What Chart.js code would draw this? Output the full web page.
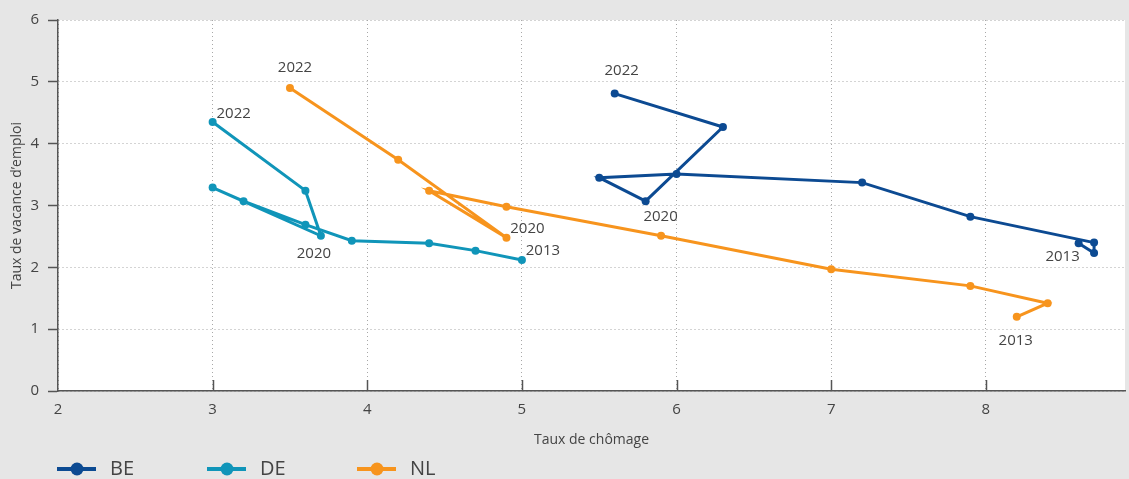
<!DOCTYPE html>
<html>
<head>
<meta charset="utf-8">
<script src="https://cdn.jsdelivr.net/npm/chart.js@4/dist/chart.umd.min.js"></script>
<style>
    html, body { margin: 0; padding: 0; background: #e6e6e6; }
    #wrap { width: 1129px; height: 479px; position: relative; }
</style>
</head>
<body>
<div id="wrap"><canvas id="scatterChart"></canvas></div>
<script>
// années 2013 -> 2022
const years = [2013, 2014, 2015, 2016, 2017, 2018, 2019, 2020, 2021, 2022];

const beChomage = [8.6, 8.7, 8.7, 7.9, 7.2, 6.0, 5.5, 5.8, 6.3, 5.6];
const beVacance = [2.39, 2.23, 2.40, 2.82, 3.37, 3.51, 3.45, 3.07, 4.27, 4.81];

const deChomage = [5.0, 4.7, 4.4, 3.9, 3.6, 3.2, 3.0, 3.7, 3.6, 3.0];
const deVacance = [2.12, 2.27, 2.39, 2.43, 2.69, 3.07, 3.29, 2.51, 3.24, 4.35];

const nlChomage = [8.2, 8.4, 7.9, 7.0, 5.9, 4.9, 4.4, 4.9, 4.2, 3.5];
const nlVacance = [1.20, 1.42, 1.70, 1.97, 2.51, 2.98, 3.24, 2.48, 3.74, 4.90];

const xTicks = [2, 3, 4, 5, 6, 7, 8];
const yTicks = [0, 1, 2, 3, 4, 5, 6];
const labelledYears = [2013, 2020, 2022];

// où placer les étiquettes d'année (décalage par rapport au point)
const labelOffsets = {
    BE: { 2013: [-16, 14], 2020: [15, 16], 2022: [7, -23] },
    DE: { 2013: [21, -9], 2020: [-7, 18], 2022: [21, -8] },
    NL: { 2013: [-1, 24], 2020: [21, -9], 2022: [5, -20] }
};

const textColor = '#444';
const fontFamily = '"Open Sans", "Noto Sans", sans-serif';

function points(xs, ys) {
    return xs.map((x, i) => ({ x: x, y: ys[i] }));
}

function serie(label, xs, ys, color) {
    return {
        label: label,
        data: points(xs, ys),
        showLine: true,
        borderColor: color,
        backgroundColor: color,
        borderWidth: 3,
        pointRadius: 4,
        pointBorderWidth: 0,
        tension: 0
    };
}

const plotBackground = {
    id: 'plotBackground',
    beforeDraw(chart) {
        const { ctx, chartArea } = chart;
        ctx.save();
        ctx.fillStyle = '#ffffff';
        ctx.fillRect(chartArea.left, chartArea.top, chartArea.right - chartArea.left, chartArea.bottom - chartArea.top);
        ctx.restore();
    }
};

const innerTicks = {
    id: 'innerTicks',
    afterDraw(chart) {
        const { ctx, chartArea, scales } = chart;
        ctx.save();
        ctx.strokeStyle = '#555';
        ctx.lineWidth = 1.5;
        xTicks.forEach(v => {
            if (v === xTicks[0]) return;
            const px = Math.round(scales.x.getPixelForValue(v)) + 0.5;
            ctx.beginPath();
            ctx.moveTo(px, chartArea.bottom);
            ctx.lineTo(px, chartArea.bottom - 11);
            ctx.stroke();
        });
        ctx.restore();
    }
};

const yearLabels = {
    id: 'yearLabels',
    afterDatasetsDraw(chart) {
        const ctx = chart.ctx;
        ctx.save();
        ctx.font = '15px ' + fontFamily;
        ctx.fillStyle = textColor;
        ctx.textAlign = 'center';
        ctx.textBaseline = 'middle';
        chart.data.datasets.forEach((ds, di) => {
            const meta = chart.getDatasetMeta(di);
            labelledYears.forEach(yr => {
                const idx = years.indexOf(yr);
                const pt = meta.data[idx];
                const off = labelOffsets[ds.label][yr];
                ctx.fillText(String(yr), pt.x + off[0], pt.y + off[1]);
            });
        });
        ctx.restore();
    }
};

const bottomLegend = {
    id: 'bottomLegend',
    afterDraw(chart) {
        const ctx = chart.ctx;
        const y = 469;
        ctx.save();
        chart.data.datasets.forEach((ds, i) => {
            const x0 = 57 + i * 150;
            ctx.strokeStyle = ds.borderColor;
            ctx.fillStyle = ds.borderColor;
            ctx.lineWidth = 4;
            ctx.beginPath();
            ctx.moveTo(x0, y);
            ctx.lineTo(x0 + 39, y);
            ctx.stroke();
            ctx.beginPath();
            ctx.arc(x0 + 20, y, 6.5, 0, Math.PI * 2);
            ctx.fill();
            ctx.fillStyle = textColor;
            ctx.font = '20px ' + fontFamily;
            ctx.textAlign = 'left';
            ctx.textBaseline = 'middle';
            ctx.fillText(ds.label, x0 + 53, y);
        });
        ctx.restore();
    }
};

const ctx = document.getElementById('scatterChart').getContext('2d');
const myChart = new Chart(ctx, {
    type: 'scatter',
    data: {
        datasets: [
            serie('BE', beChomage, beVacance, '#0c4a92'),
            serie('DE', deChomage, deVacance, '#1095b9'),
            serie('NL', nlChomage, nlVacance, '#f7941d')
        ]
    },
    options: {
        responsive: true,
        maintainAspectRatio: false,
        animation: false,
        layout: { padding: { top: 20, right: 0, bottom: 28, left: 0 } },
        plugins: {
            legend: { display: false },
            tooltip: { enabled: false }
        },
        scales: {
            x: {
                type: 'linear',
                min: 2,
                max: 8.9,
                afterBuildTicks: s => { s.ticks = xTicks.map(v => ({ value: v })); },
                afterFit: s => { s.height = 60; },
                ticks: { color: textColor, font: { family: fontFamily, size: 15 }, padding: 10 },
                grid: { color: '#a8a8a8', lineWidth: 1, drawTicks: false },
                border: { display: true, color: '#555', width: 1.5, dash: [1, 3] },
                title: {
                    display: true,
                    text: 'Taux de chômage',
                    color: textColor,
                    font: { family: fontFamily, size: 14 },
                    padding: { top: 0, bottom: 3 }
                }
            },
            y: {
                min: 0,
                max: 6,
                afterBuildTicks: s => { s.ticks = yTicks.map(v => ({ value: v })); },
                afterFit: s => { s.width = 58; },
                ticks: { color: textColor, font: { family: fontFamily, size: 15 }, padding: 9 },
                grid: {
                    color: '#a8a8a8', lineWidth: 1, drawTicks: true, tickLength: 10,
                    tickColor: '#555', tickWidth: 1.5
                },
                border: { display: true, color: '#555', width: 1.5, dash: [1, 3] },
                title: {
                    display: true,
                    text: 'Taux de vacance d\u2019emploi',
                    color: textColor,
                    font: { family: fontFamily, size: 14 },
                    padding: { top: 9, bottom: 0 }
                }
            }
        }
    },
    plugins: [plotBackground, innerTicks, yearLabels, bottomLegend]
});
</script>
</body>
</html>
